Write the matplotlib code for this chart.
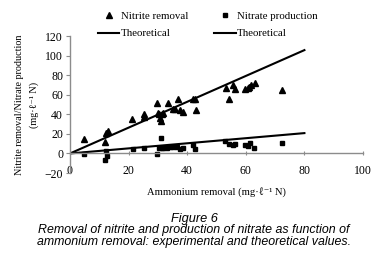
import matplotlib
matplotlib.use("Agg")
import matplotlib.pyplot as plt
import numpy as np

SERIF = ["Liberation Serif", "DejaVu Serif"]
SANS = ["Liberation Sans", "DejaVu Sans"]

# nitrite removal (triangles)
nitrite_x = [4.8, 12.0, 12.3, 13.0, 21.3, 25.2, 25.3, 29.8, 30.0, 30.5, 30.7, 30.9,
             31.4, 31.8, 33.6, 35.2, 35.9, 37.0, 37.7, 38.6, 42.0, 42.7, 43.0,
             53.2, 54.1, 55.7, 56.4, 59.7, 60.6, 61.1, 61.7, 63.1, 72.2]
nitrite_y = [15.0, 11.6, 20.5, 22.8, 34.8, 40.0, 37.5, 51.8, 41.0, 40.0, 36.5, 33.0,
             40.0, 41.6, 51.8, 45.0, 45.0, 55.2, 44.0, 42.3, 56.0, 56.0, 44.0,
             67.2, 55.2, 70.2, 65.5, 66.0, 67.2, 68.2, 69.5, 72.3, 64.8]

# nitrate production (squares)
nitrate_x = [4.8, 12.0, 12.7, 12.3, 21.6, 25.2, 29.8, 30.5, 30.9, 31.4, 31.8,
             33.0, 34.1, 35.2, 36.4, 37.5, 38.6, 42.0, 42.7,
             53.0, 54.1, 55.7, 56.4, 59.7, 60.8, 61.4, 62.7, 72.2]
nitrate_y = [-0.5, -7.0, -3.0, 2.4, 4.8, 5.8, -1.0, 5.8, 16.0, 5.8, 5.8,
             6.0, 6.5, 6.5, 6.5, 4.8, 5.8, 8.5, 4.8,
             12.6, 9.2, 8.5, 9.9, 8.5, 7.5, 10.2, 5.8, 10.2]

# theoretical stoichiometry lines
theory_x = [0, 80]
theory_nitrite = [0, 105.6]
theory_nitrate = [0, 20.8]

fig = plt.figure(figsize=(3.88, 2.61), dpi=100)
ax = fig.add_axes([0.1804, 0.337, 0.7552, 0.525])

tri, = ax.plot(nitrite_x, nitrite_y, "^", color="black", markersize=3.7, linestyle="none")
sq, = ax.plot(nitrate_x, nitrate_y, "s", color="black", markersize=2.3, linestyle="none")
l1, = ax.plot(theory_x, theory_nitrite, color="black", linewidth=1.5)
l2, = ax.plot(theory_x, theory_nitrate, color="black", linewidth=1.5)

ax.set_xlim(0, 100)
ax.set_ylim(-20, 120)
ax.set_xticks(np.arange(0, 101, 20))
ax.set_yticks(np.arange(-20, 121, 20))

for s in ("top", "right"):
    ax.spines[s].set_visible(False)
ax.spines["bottom"].set_position(("data", 0))
for s in ("left", "bottom"):
    ax.spines[s].set_color("#8c8c8c")
    ax.spines[s].set_linewidth(1.0)
ax.tick_params(axis="y", direction="out", length=3, color="#8c8c8c", pad=2, labelsize=8.5)
ax.tick_params(axis="x", direction="inout", length=3, color="#8c8c8c", pad=7, labelsize=8.5)
for lab in ax.get_xticklabels() + ax.get_yticklabels():
    lab.set_family(SERIF)

ax.set_xlabel("Ammonium removal (mg·ℓ⁻¹ N)", family=SERIF, fontsize=7.6, labelpad=0)
ax.xaxis.set_label_coords(0.5, -0.10)
ax.set_ylabel("Nitrite removal/Nitrate production\n(mg·ℓ⁻¹ N)", family=SERIF,
              fontsize=7.3, linespacing=1.75)
ax.yaxis.set_label_coords(-0.105, 0.5)

fig.legend([tri, l1, sq, l2],
           ["Nitrite removal", "Theoretical", "Nitrate production", "Theoretical"],
           ncol=2, loc="upper center", bbox_to_anchor=(0.535, 0.995), frameon=False,
           prop={"family": SERIF, "size": 7.8}, handlelength=2.0, handletextpad=0.1,
           columnspacing=2.4, labelspacing=0.75, numpoints=1)

fig.text(0.5, 1 - 219 / 261, "Figure 6", ha="center", va="center", family=SANS,
         style="italic", fontsize=9.2)
fig.text(0.5, 1 - 236 / 261,
         "Removal of nitrite and production of nitrate as function of\n"
         "ammonium removal: experimental and theoretical values.",
         ha="center", va="center", family=SANS, style="italic", fontsize=8.9,
         linespacing=1.0)

fig.savefig("out.png", dpi=100)
